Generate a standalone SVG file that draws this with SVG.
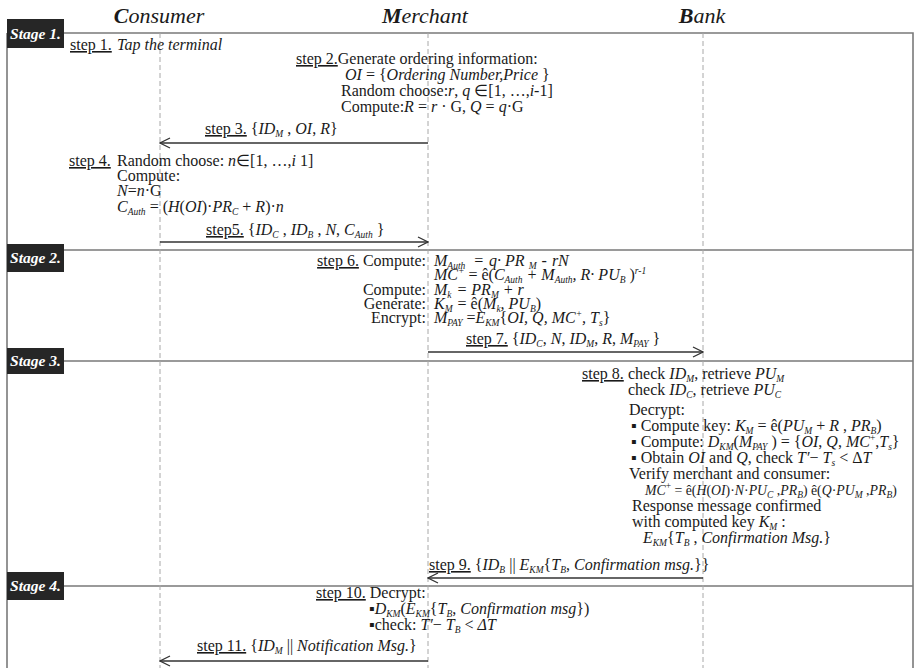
<svg xmlns="http://www.w3.org/2000/svg" width="917" height="668" viewBox="0 0 917 668">
<style>
text { font-family: "Liberation Serif", "Times New Roman", serif; font-size: 16px; fill: #1a1a1a; }
text.sm { font-size: 13.8px; }
.i { font-style: italic; }
.n { font-style: normal; }
.u { text-decoration: underline; }
.sb { font-size: 9.5px; baseline-shift: -3px; }
.sp { font-size: 9.5px; baseline-shift: 6px; }
text.hd { font-size: 22px; font-style: italic; }
.hb { font-weight: bold; }
text.stg { font-size: 15.5px; font-weight: bold; font-style: italic; fill: #ffffff; }
.frame { stroke: #7a7a7a; stroke-width: 1.6; fill: none; }
.life { stroke: #a8a8a8; stroke-width: 1; stroke-dasharray: 5 3; fill: none; }
.msg { stroke: #333333; stroke-width: 1.4; fill: none; marker-end: url(#open); }
.sbox { fill: #262626; }
</style>
<defs>
<marker id="open" viewBox="0 0 12 12" refX="11" refY="6" markerWidth="12" markerHeight="12" markerUnits="userSpaceOnUse" orient="auto">
<path d="M1,1 L11,6 L1,11" fill="none" stroke="#333333" stroke-width="1.3"/>
</marker>
</defs>

<g id="headers">
<text class="hd" x="159" y="23" text-anchor="middle"><tspan class="hb">C</tspan>onsumer</text>
<text class="hd" x="425" y="23" text-anchor="middle"><tspan class="hb">M</tspan>erchant</text>
<text class="hd" x="702" y="23" text-anchor="middle"><tspan class="hb">B</tspan>ank</text>
</g>

<g id="frame">
<path class="frame" d="M7,33 H913 V668 M7,33 V668"/>
<path class="frame" d="M7,250 H913 M7,361 H913 M7,586 H913"/>
</g>

<g id="lifelines">
<line class="life" x1="160" y1="33" x2="160" y2="668"/>
<line class="life" x1="428" y1="33" x2="428" y2="668"/>
<line class="life" x1="703" y1="33" x2="703" y2="668"/>
</g>

<g id="stage1"><rect class="sbox" x="7" y="19" width="57" height="29"/><text class="stg" x="35.5" y="39" text-anchor="middle">Stage 1.</text></g>
<g id="stage2"><rect class="sbox" x="7" y="244" width="57" height="28"/><text class="stg" x="35.5" y="263" text-anchor="middle">Stage 2.</text></g>
<g id="stage3"><rect class="sbox" x="7" y="348" width="57" height="26"/><text class="stg" x="35.5" y="366" text-anchor="middle">Stage 3.</text></g>
<g id="stage4"><rect class="sbox" x="7" y="572" width="57" height="28"/><text class="stg" x="35.5" y="591" text-anchor="middle">Stage 4.</text></g>

<g id="connectors">
<line class="msg" x1="428" y1="143" x2="160" y2="143"/>
<line class="msg" x1="160" y1="242" x2="428" y2="242"/>
<line class="msg" x1="428" y1="352" x2="703" y2="352"/>
<line class="msg" x1="703" y1="578" x2="428" y2="578"/>
<line class="msg" x1="428" y1="661" x2="160" y2="661"/>
</g>

<g id="step1">
<text x="70" y="50"><tspan class="u">step 1.</tspan><tspan class="i" x="117">Tap the terminal</tspan></text>
</g>

<g id="step2">
<text x="296" y="64"><tspan class="u">step 2.</tspan>Generate ordering information:</text>
<text x="345" y="80"><tspan class="i">OI</tspan> = {<tspan class="i">Ordering Number,Price</tspan> }</text>
<text x="341" y="96">Random choose:<tspan class="i">r</tspan>, <tspan class="i">q</tspan> ∈[1, …,<tspan class="i">i</tspan>-1]</text>
<text x="341" y="112">Compute:<tspan class="i">R</tspan> = <tspan class="i">r</tspan> · G, <tspan class="i">Q</tspan> = <tspan class="i">q</tspan>·G</text>
</g>

<g id="step3">
<text x="205" y="134"><tspan class="u">step 3.</tspan> {<tspan class="i">ID</tspan><tspan class="sb i">M</tspan> , <tspan class="i">OI</tspan>, <tspan class="i">R</tspan>}</text>
</g>

<g id="step4">
<text x="69" y="166"><tspan class="u">step 4.</tspan><tspan x="117">Random choose: </tspan><tspan class="i">n</tspan>∈[1, …,<tspan class="i">i</tspan> 1]</text>
<text x="117" y="181">Compute:</text>
<text x="117" y="196"><tspan class="i">N</tspan>=<tspan class="i">n</tspan>·G</text>
<text x="117" y="212"><tspan class="i">C</tspan><tspan class="sb i">Auth</tspan> = (<tspan class="i">H</tspan>(<tspan class="i">OI</tspan>)·<tspan class="i">PR</tspan><tspan class="sb i">C</tspan> + <tspan class="i">R</tspan>)·<tspan class="i">n</tspan></text>
</g>

<g id="step5">
<text x="206" y="235"><tspan class="u">step5.</tspan> {<tspan class="i">ID</tspan><tspan class="sb i">C</tspan> , <tspan class="i">ID</tspan><tspan class="sb i">B</tspan> , <tspan class="i">N</tspan>, <tspan class="i">C</tspan><tspan class="sb i">Auth</tspan> }</text>
</g>

<g id="step6">
<text x="426" y="266" text-anchor="end"><tspan class="u">step 6.</tspan> Compute:</text>
<text x="434" y="266" class="i">M<tspan class="sb">Auth</tspan><tspan dx="8">=</tspan><tspan dx="5">q·</tspan> PR <tspan class="sb">M</tspan><tspan dx="5">-</tspan><tspan dx="5">rN</tspan></text>
<text x="434" y="280" class="i">MC<tspan class="sp">+</tspan> <tspan class="n">= ê(</tspan>C<tspan class="sb">Auth</tspan> + M<tspan class="sb">Auth</tspan>, R· PU<tspan class="sb">B</tspan> <tspan class="n">)</tspan><tspan class="sp">r-1</tspan></text>
<text x="426" y="295" text-anchor="end">Compute:</text>
<text x="434" y="295" class="i">M<tspan class="sb">k</tspan><tspan dx="5">= PR</tspan><tspan class="sb">M</tspan> + r</text>
<text x="426" y="309" text-anchor="end">Generate:</text>
<text x="434" y="309" class="i">K<tspan class="sb">M</tspan><tspan class="n" dx="5">= ê(</tspan>M<tspan class="sb">k</tspan>, PU<tspan class="sb">B</tspan><tspan class="n">)</tspan></text>
<text x="426" y="323" text-anchor="end">Encrypt:</text>
<text x="434" y="323" class="i">M<tspan class="sb">PAY</tspan> <tspan class="n">=</tspan>E<tspan class="sb">KM</tspan><tspan class="n">{</tspan>OI, Q, MC<tspan class="sp">+</tspan>, T<tspan class="sb">s</tspan><tspan class="n">}</tspan></text>
</g>

<g id="step7">
<text x="466" y="344"><tspan class="u">step 7.</tspan> {<tspan class="i">ID</tspan><tspan class="sb i">C</tspan>, <tspan class="i">N</tspan>, <tspan class="i">ID</tspan><tspan class="sb i">M</tspan>, <tspan class="i">R</tspan>, <tspan class="i">M</tspan><tspan class="sb i">PAY</tspan> }</text>
</g>

<g id="step8">
<text x="582" y="379"><tspan class="u">step 8.</tspan><tspan x="628">check </tspan><tspan class="i">ID</tspan><tspan class="sb i">M</tspan>, retrieve <tspan class="i">PU</tspan><tspan class="sb i">M</tspan></text>
<text x="628" y="395">check <tspan class="i">ID</tspan><tspan class="sb i">C</tspan>, retrieve <tspan class="i">PU</tspan><tspan class="sb i">C</tspan></text>
<text x="629" y="415">Decrypt:</text>
<text x="631" y="431">▪ Compute key: <tspan class="i">K</tspan><tspan class="sb i">M</tspan> = ê(<tspan class="i">PU</tspan><tspan class="sb i">M</tspan> + <tspan class="i">R</tspan> , <tspan class="i">PR</tspan><tspan class="sb i">B</tspan>)</text>
<text x="631" y="447">▪ Compute: <tspan class="i">D</tspan><tspan class="sb i">KM</tspan>(<tspan class="i">M</tspan><tspan class="sb i">PAY</tspan> ) = {<tspan class="i">OI</tspan>, <tspan class="i">Q</tspan>, <tspan class="i">MC</tspan><tspan class="sp">+</tspan>,<tspan class="i">T</tspan><tspan class="sb i">s</tspan>}</text>
<text x="631" y="463">▪ Obtain <tspan class="i">OI</tspan> and <tspan class="i">Q</tspan>, check <tspan class="i">T′</tspan>− <tspan class="i">T</tspan><tspan class="sb i">s</tspan> &lt; Δ<tspan class="i">T</tspan></text>
<text x="629" y="479">Verify merchant and consumer:</text>
<text class="sm" x="645" y="495"><tspan class="i">MC</tspan><tspan class="sp">+</tspan> = ê(<tspan class="i">H</tspan>(<tspan class="i">OI</tspan>)·<tspan class="i">N</tspan>·<tspan class="i">PU</tspan><tspan class="sb i">C</tspan> ,<tspan class="i">PR</tspan><tspan class="sb i">B</tspan>) ê(<tspan class="i">Q</tspan>·<tspan class="i">PU</tspan><tspan class="sb i">M</tspan> ,<tspan class="i">PR</tspan><tspan class="sb i">B</tspan>)</text>
<text x="632" y="511">Response message confirmed</text>
<text x="632" y="527">with computed key <tspan class="i">K</tspan><tspan class="sb i">M</tspan> :</text>
<text x="643" y="543"><tspan class="i">E</tspan><tspan class="sb i">KM</tspan>{<tspan class="i">T</tspan><tspan class="sb i">B</tspan> , <tspan class="i">Confirmation Msg.</tspan>}</text>
</g>

<g id="step9">
<text x="429" y="570"><tspan class="u">step 9.</tspan> {<tspan class="i">ID</tspan><tspan class="sb i">B</tspan> || <tspan class="i">E</tspan><tspan class="sb i">KM</tspan>{<tspan class="i">T</tspan><tspan class="sb i">B</tspan>, <tspan class="i">Confirmation msg.</tspan>}}</text>
</g>

<g id="step10">
<text x="316" y="598"><tspan class="u">step 10.</tspan> Decrypt:</text>
<text x="369" y="614">▪<tspan class="i">D</tspan><tspan class="sb i">KM</tspan>(<tspan class="i">E</tspan><tspan class="sb i">KM</tspan>{<tspan class="i">T</tspan><tspan class="sb i">B</tspan>, <tspan class="i">Confirmation msg</tspan>})</text>
<text x="369" y="630">▪check: <tspan class="i">T′</tspan>− <tspan class="i">T</tspan><tspan class="sb i">B</tspan> &lt; <tspan class="i">ΔT</tspan></text>
</g>

<g id="step11">
<text x="197" y="651"><tspan class="u">step 11.</tspan> {<tspan class="i">ID</tspan><tspan class="sb i">M</tspan> || <tspan class="i">Notification Msg.</tspan>}</text>
</g>
</svg>
